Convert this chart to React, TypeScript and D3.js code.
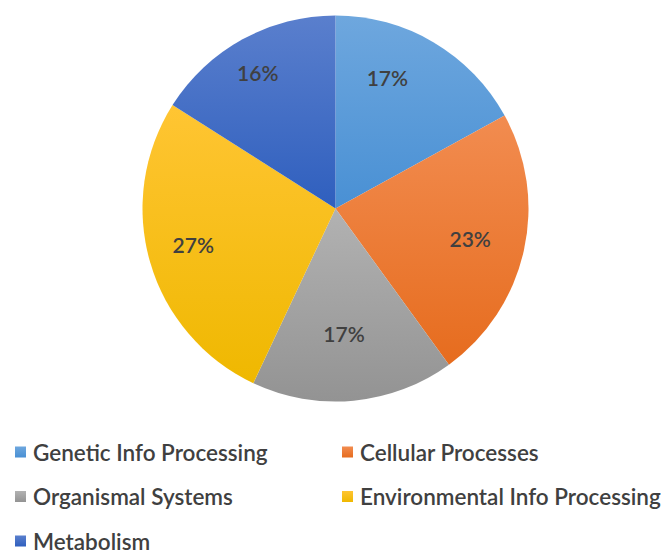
import React from "react";
import * as d3 from "d3";

const categories = [
  "Genetic Info Processing",
  "Cellular Processes",
  "Organismal Systems",
  "Environmental Info Processing",
  "Metabolism",
];
const values = [17, 23, 17, 27, 16];
const colorsTop = ["#6ea7de", "#f28c50", "#b2b2b2", "#ffc533", "#5a7fcd"];
const colorsBottom = ["#4990d4", "#e66c1e", "#939393", "#efb800", "#2f5fbe"];
// label placement tweaks (fraction of radius, angular shift in degrees)
const labelRadiusFrac = [0.73, 0.715, 0.65, 0.76, 0.81];
const labelAngleShift = [-9, 0, 1.5, 2, -1];

const W = 669;
const H = 550;
const cx = 335.5;
const cy = 208.5;
const R = 193;

export default function App() {
  const pie = d3.pie<number>().sort(null).value((d) => d)(values);
  const arc = d3.arc<d3.PieArcDatum<number>>().innerRadius(0).outerRadius(R);
  const total = d3.sum(values);
  const font = "Lato, 'Noto Sans', sans-serif";

  return (
    <svg
      width={W}
      height={H}
      style={{ position: "absolute", left: 0, top: 0, background: "#fff" }}
    >
      <defs>
        {categories.map((c, i) => (
          <linearGradient key={c} id={`g${i}`} x1="0" y1="0" x2="0" y2="1">
            <stop offset="0%" stopColor={colorsTop[i]} />
            <stop offset="100%" stopColor={colorsBottom[i]} />
          </linearGradient>
        ))}
      </defs>
      <g transform={`translate(${cx},${cy})`}>
        {pie.map((p, i) => (
          <path key={i} d={arc(p) || ""} fill={`url(#g${i})`} />
        ))}
        {pie.map((p, i) => {
          const a = (p.startAngle + p.endAngle) / 2 + (labelAngleShift[i] * Math.PI) / 180;
          const r = R * labelRadiusFrac[i];
          const x = r * Math.sin(a);
          const y = -r * Math.cos(a);
          return (
            <text
              key={"l" + i}
              x={x}
              y={y}
              textAnchor="middle"
              dominantBaseline="central"
              fontFamily={font}
              fontSize={21}
              fontWeight={600}
              fill="#404040"
            >
              {Math.round((values[i] / total) * 100)}%
            </text>
          );
        })}
      </g>
      <g>
        {categories.map((c, i) => {
          const col = i % 2;
          const row = Math.floor(i / 2);
          const x = 15 + col * 327;
          const y = 452 + row * 44.5;
          return (
            <g key={"leg" + i} transform={`translate(${x},${y})`}>
              <rect x={0} y={-5.5} width={11} height={11} fill={`url(#g${i})`} />
              <text
                x={18}
                y={0}
                dominantBaseline="central"
                fontFamily={font}
                fontSize={22.5}
                fontWeight={600}
                fill="#404040"
              >
                {c}
              </text>
            </g>
          );
        })}
      </g>
    </svg>
  );
}
